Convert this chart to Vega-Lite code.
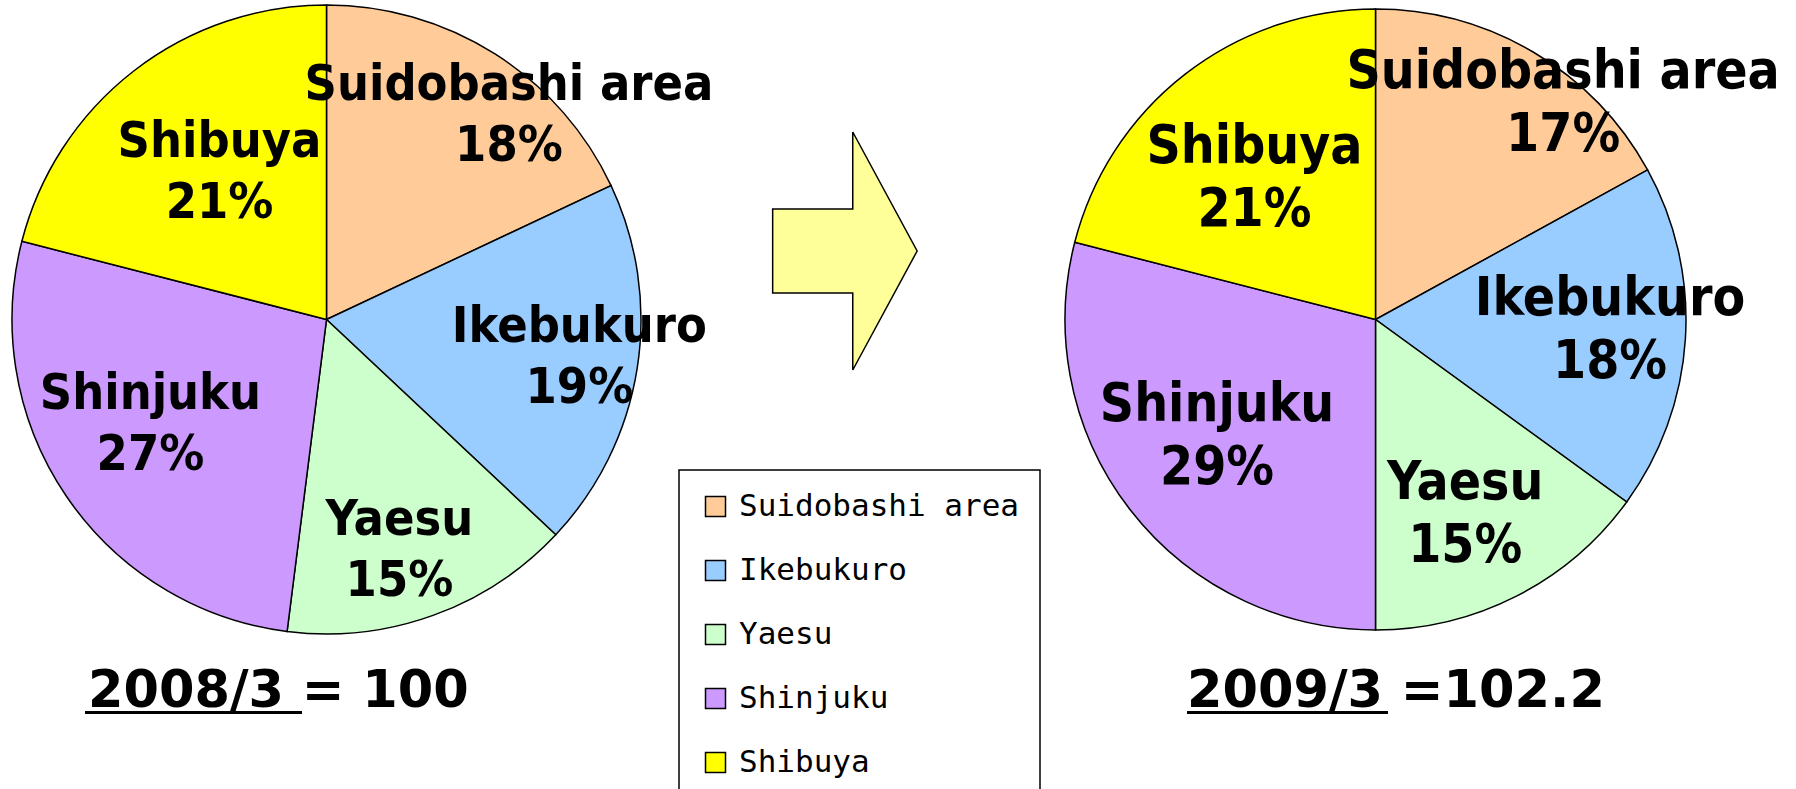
{
  "$schema": "https://vega.github.io/schema/vega-lite/v6.json",
  "width": 1796,
  "height": 639,
  "padding": {"left": 0, "top": 0, "right": 0, "bottom": 150},
  "autosize": {"type": "none"},
  "background": "white",
  "config": {
    "view": {"stroke": null},
    "legend": {
      "symbolType": "square",
      "symbolSize": 400,
      "symbolStrokeColor": "black",
      "symbolStrokeWidth": 1.5,
      "symbolOpacity": 1,
      "labelFont": "DejaVu Sans Mono",
      "labelFontSize": 31,
      "labelColor": "black",
      "labelLimit": 0,
      "labelOffset": 8,
      "symbolOffset": 0,
      "rowPadding": 32,
      "padding": 21,
      "strokeColor": "black",
      "strokeWidth": 1.5,
      "fillColor": "white"
    }
  },
  "datasets": {
    "shares": [
      {"period": "2008/3", "area": "Suidobashi area", "share": 18, "k": 1},
      {"period": "2008/3", "area": "Ikebukuro", "share": 19, "k": 2},
      {"period": "2008/3", "area": "Yaesu", "share": 15, "k": 3},
      {"period": "2008/3", "area": "Shinjuku", "share": 27, "k": 4},
      {"period": "2008/3", "area": "Shibuya", "share": 21, "k": 5},
      {"period": "2009/3", "area": "Suidobashi area", "share": 17, "k": 1},
      {"period": "2009/3", "area": "Ikebukuro", "share": 18, "k": 2},
      {"period": "2009/3", "area": "Yaesu", "share": 15, "k": 3},
      {"period": "2009/3", "area": "Shinjuku", "share": 29, "k": 4},
      {"period": "2009/3", "area": "Shibuya", "share": 21, "k": 5}
    ],
    "totals": [
      {"period": "2008/3", "index": 100, "caption": "2008/3 = 100"},
      {"period": "2009/3", "index": 102.2, "caption": "2009/3 =102.2"}
    ]
  },
  "resolve": {"scale": {"x": "independent"}},
  "layer": [
    {
      "data": {"name": "shares"},
      "transform": [{"calculate": "datum.area + '\\n' + datum.share + '%'", "as": "label"}],
      "encoding": {
        "x": {"field": "period", "type": "nominal", "axis": null,
              "scale": {"type": "point", "domain": ["2008/3", "2009/3"], "range": [326.5, 1375.5], "padding": 0}},
        "theta": {"field": "share", "type": "quantitative", "stack": true, "scale": {"domain": [0, 100]}},
        "order": {"field": "k", "type": "quantitative"}
      },
      "layer": [
        {
          "transform": [{"filter": "datum.period === '2008/3'"}],
          "mark": {"type": "arc", "outerRadius": 314.5, "stroke": "black", "strokeWidth": 1.5},
          "encoding": {
            "color": {"field": "area", "type": "nominal",
              "scale": {"domain": ["Suidobashi area", "Ikebukuro", "Yaesu", "Shinjuku", "Shibuya"],
                        "range": ["#FFCC99", "#99CCFF", "#CCFFCC", "#CC99FF", "#FFFF00"]},
              "legend": {"title": null, "orient": "none", "legendX": 679, "legendY": 470}}
          }
        },
        {
          "transform": [{"filter": "datum.period === '2009/3'"}],
          "mark": {"type": "arc", "outerRadius": 310.5, "stroke": "black", "strokeWidth": 1.5},
          "encoding": {
            "color": {"field": "area", "type": "nominal",
              "scale": {"domain": ["Suidobashi area", "Ikebukuro", "Yaesu", "Shinjuku", "Shibuya"],
                        "range": ["#FFCC99", "#99CCFF", "#CCFFCC", "#CC99FF", "#FFFF00"]},
              "legend": {"title": null, "orient": "none", "legendX": 679, "legendY": 470}}
          }
        },
        {
          "transform": [{"filter": "datum.period === '2008/3'"}],
          "mark": {"type": "text", "font": "DejaVu Sans Condensed", "fontWeight": "bold", "fontSize": 50,
                   "lineHeight": 61, "lineBreak": "\n", "color": "black", "align": "center", "baseline": "middle",
                   "radius": {"expr": "[277, 253, 236, 202, 186][datum.k - 1]"},
                   "dx": {"expr": "[34, 3, -7, -9, 7][datum.k - 1]"},
                   "dy": {"expr": "[-1, -32, -22, -39, -31][datum.k - 1]"}},
          "encoding": {"text": {"field": "label"}}
        },
        {
          "transform": [{"filter": "datum.period === '2009/3'"}],
          "mark": {"type": "text", "font": "DejaVu Sans Condensed", "fontWeight": "bold", "fontSize": 53,
                   "lineHeight": 63, "lineBreak": "\n", "color": "black", "align": "center", "baseline": "middle",
                   "radius": {"expr": "[286, 234, 213, 198, 186][datum.k - 1]"},
                   "dx": {"expr": "[42, 1, -7, -2, -7][datum.k - 1]"},
                   "dy": {"expr": "[-1, -35, -26, -36, -26][datum.k - 1]"}},
          "encoding": {"text": {"field": "label"}}
        }
      ]
    },
    {
      "data": {"values": [{"from": "2008/3", "to": "2009/3"}]},
      "mark": {"type": "point", "filled": true, "fill": "#FFFF99", "stroke": "black", "strokeWidth": 1.5, "opacity": 1,
               "shape": "M-0.607,-0.353 L0.066,-0.353 L0.066,-1 L0.607,0 L0.066,1 L0.066,0.353 L-0.607,0.353 Z",
               "size": 56644, "xOffset": -53.1, "yOffset": -68.5},
      "encoding": {}
    },
    {
      "data": {"name": "totals"},
      "mark": {"type": "text", "font": "DejaVu Sans", "fontWeight": "bold", "fontSize": 51, "color": "black",
               "align": "left", "baseline": "alphabetic", "dy": 387.5},
      "encoding": {
        "x": {"field": "period", "type": "nominal", "axis": null,
              "scale": {"type": "point", "domain": ["2008/3", "2009/3"], "range": [88, 1187], "padding": 0}},
        "text": {"field": "caption"}
      }
    },
    {
      "data": {"name": "totals"},
      "transform": [{"filter": "datum.period === '2008/3'"}],
      "mark": {"type": "tick", "orient": "horizontal", "thickness": 3, "size": 217, "color": "black", "opacity": 1, "yOffset": 393},
      "encoding": {
        "x": {"field": "period", "type": "nominal", "axis": null,
              "scale": {"type": "point", "domain": ["2008/3", "2009/3"], "range": [193.5, 1287.5], "padding": 0}}
      }
    },
    {
      "data": {"name": "totals"},
      "transform": [{"filter": "datum.period === '2009/3'"}],
      "mark": {"type": "tick", "orient": "horizontal", "thickness": 3, "size": 201, "color": "black", "opacity": 1, "yOffset": 393},
      "encoding": {
        "x": {"field": "period", "type": "nominal", "axis": null,
              "scale": {"type": "point", "domain": ["2008/3", "2009/3"], "range": [193.5, 1287.5], "padding": 0}}
      }
    }
  ]
}
